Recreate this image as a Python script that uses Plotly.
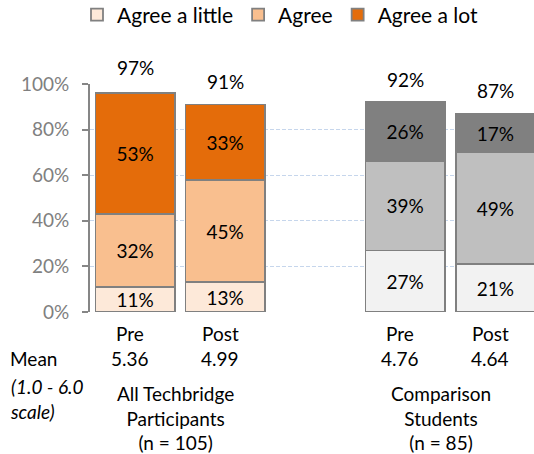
import plotly.graph_objects as go

# ---- data ----
positions = [0, 1, 3, 4]
period_labels = ["Pre", "Post", "Pre", "Post"]
means = ["5.36", "4.99", "4.76", "4.64"]
group_labels = ["All Techbridge<br>Participants<br>(n = 105)", "Comparison<br>Students<br>(n = 85)"]
group_pos = [0.45, 3.4]
series_names = ["Agree a little", "Agree", "Agree a lot"]
agree_little = [11, 13, 27, 21]
agree = [32, 45, 39, 49]
agree_lot = [53, 33, 26, 17]
totals = [97, 91, 92, 87]

orange_colors = ["#FDE9D9", "#F9BF8F", "#E46C0A"]
grey_colors = ["#F2F2F2", "#BFBFBF", "#808080"]
FONT = "Lato"
TXT = 19

fig = go.Figure()
series = [agree_little, agree, agree_lot]
for i, (name, vals) in enumerate(zip(series_names, series)):
    for grp, color_set, legend in [((0, 1), orange_colors, True), ((2, 3), grey_colors, False)]:
        xs = [positions[j] for j in grp]
        ys = [vals[j] / 100 for j in grp]
        fig.add_trace(go.Bar(
            x=xs, y=ys, name=name, showlegend=legend, legendgroup=name,
            width=0.88,
            marker=dict(color=color_set[i], line=dict(color="#808080", width=1.8)),
            text=[f"{vals[j]}%" for j in grp],
            textposition="inside", insidetextanchor="middle",
            textfont=dict(family=FONT, size=TXT, color="black"),
            hoverinfo="skip",
        ))

annotations = []
for x, t in zip(positions, totals):
    annotations.append(dict(x=x, y=t / 100, xref="x", yref="y", text=f"{t}%",
                            showarrow=False, yshift=23,
                            font=dict(family=FONT, size=TXT, color="black")))
for x, p, m in zip(positions, period_labels, means):
    annotations.append(dict(x=x, y=0, xref="x", yref="y", text=p, showarrow=False,
                            xshift=-5, yshift=-21, font=dict(family=FONT, size=TXT, color="black")))
    annotations.append(dict(x=x, y=0, xref="x", yref="y", text=m, showarrow=False,
                            xshift=-5, yshift=-46, font=dict(family=FONT, size=TXT, color="black")))
for x, g in zip(group_pos, group_labels):
    annotations.append(dict(x=x, y=0, xref="x", yref="y", text=g, showarrow=False,
                            yanchor="top", yshift=-68, align="center",
                            font=dict(family=FONT, size=TXT, color="black")))
annotations.append(dict(x=-0.5, y=0, xref="x", yref="y", text="Mean", showarrow=False,
                        xanchor="left", xshift=-82, yshift=-46,
                        font=dict(family=FONT, size=TXT, color="black")))
annotations.append(dict(x=-0.5, y=0, xref="x", yref="y",
                        text="<i>(1.0 - 6.0</i><br><i>scale)</i>", showarrow=False,
                        xanchor="left", align="left", yanchor="top", xshift=-82, yshift=-61,
                        font=dict(family=FONT, size=TXT, color="black")))

fig.update_layout(
    width=534, height=454,
    margin=dict(l=90, r=0, t=84, b=142, autoexpand=False),
    barmode="stack",
    plot_bgcolor="white", paper_bgcolor="white",
    font=dict(family=FONT, size=TXT),
    uniformtext=dict(minsize=TXT, mode="show"),
    showlegend=True,
    legend=dict(orientation="h", x=77 / 534, xref="container", xanchor="left",
                y=1 - 15 / 454, yref="container", yanchor="middle",
                font=dict(family=FONT, size=21, color="black"), traceorder="normal",
                itemwidth=30, tracegroupgap=0),
    annotations=annotations,
    xaxis=dict(range=[-0.5, 4.43], showticklabels=False, showgrid=False, zeroline=False,
               showline=False, ticks="", fixedrange=True),
    yaxis=dict(range=[0, 1], tickvals=[0, 0.2, 0.4, 0.6, 0.8, 1.0], tickformat=".0%",
               tickfont=dict(family=FONT, size=TXT, color="#808080"),
               ticklabelstandoff=9,
               showgrid=True, gridcolor="#C6D6EC", griddash="4px,2px", gridwidth=1,
               zeroline=False, showline=True, linecolor="#868686", linewidth=2,
               ticks="outside", ticklen=6, tickcolor="#868686", tickwidth=2,
               fixedrange=True),
)

fig.write_html("out.html")
